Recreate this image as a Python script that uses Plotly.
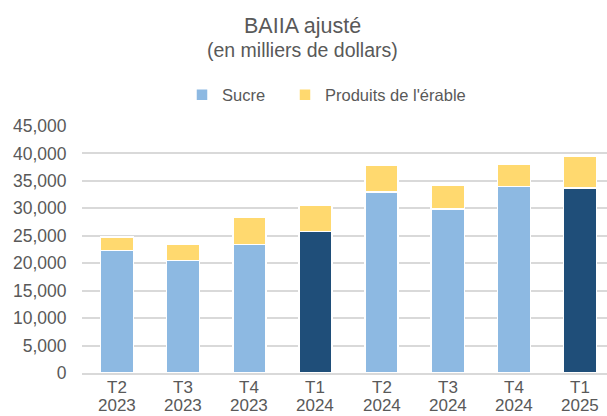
import plotly.graph_objects as go

categories = ["T2 2023", "T3 2023", "T4 2023", "T1 2024", "T2 2024", "T3 2024", "T4 2024", "T1 2025"]
sucre = [22300, 20500, 23400, 25800, 33000, 29900, 34000, 33700]
erable = [2500, 3000, 4900, 4700, 4900, 4300, 4100, 5700]
y_ticks = [0, 5000, 10000, 15000, 20000, 25000, 30000, 35000, 40000, 45000]

light_blue = "#8DB9E2"
dark_blue = "#1F4E79"
yellow = "#FFD96F"
sucre_colors = [dark_blue if c.startswith("T1") else light_blue for c in categories]

font_family = "Liberation Sans, Arial, sans-serif"
grey = "#595959"

L, R, T, B = 82, 0, 126, 43
W, H = 607, 416
PW, PH = W - L - R, H - T - B


def px_x(x):
    return (x - L) / PW


def px_y(y):
    return (H - B - y) / PH


fig = go.Figure()
fig.add_trace(go.Bar(
    x=categories, y=sucre, name="Sucre", legend="legend",
    marker=dict(color=sucre_colors, line=dict(color="white", width=1.5)),
    width=0.5,
))
fig.add_trace(go.Bar(
    x=categories, y=erable, name="Produits de l'érable", legend="legend2",
    marker=dict(color=yellow, line=dict(color="white", width=1.5)),
    width=0.5,
))

annotations = [
    dict(text="BAIIA ajusté", x=px_x(302), y=px_y(26), xref="paper", yref="paper",
         xanchor="center", yanchor="middle", showarrow=False,
         font=dict(size=21.5, color=grey)),
    dict(text="(en milliers de dollars)", x=px_x(302), y=px_y(50), xref="paper", yref="paper",
         xanchor="center", yanchor="middle", showarrow=False,
         font=dict(size=19.5, color=grey)),
]
for c in categories:
    q, yr = c.split(" ")
    annotations.append(dict(text=q, x=c, y=px_y(387), xref="x", yref="paper",
                            xanchor="center", yanchor="middle", showarrow=False,
                            font=dict(size=17, color=grey)))
    annotations.append(dict(text=yr, x=c, y=px_y(405), xref="x", yref="paper",
                            xanchor="center", yanchor="middle", showarrow=False,
                            font=dict(size=17, color=grey)))

legend_common = dict(orientation="h", yanchor="middle", y=px_y(95), xanchor="left",
                     font=dict(size=16.5, color=grey), bgcolor="rgba(0,0,0,0)")

fig.update_layout(
    barmode="stack",
    width=W, height=H,
    margin=dict(l=L, r=R, t=T, b=B, autoexpand=False),
    paper_bgcolor="white", plot_bgcolor="white",
    font=dict(family=font_family, size=17, color=grey),
    showlegend=True,
    legend=dict(legend_common, x=px_x(182)),
    legend2=dict(legend_common, x=px_x(285)),
    xaxis=dict(type="category", range=[-0.529, 7.408], showgrid=False,
               showline=True, linecolor="#D9D9D9", linewidth=1.5,
               showticklabels=False, ticks="", automargin=False),
    yaxis=dict(range=[0, 45000], tickvals=y_ticks, tickformat=",",
               showgrid=True, gridcolor="#D9D9D9", gridwidth=1.5,
               zeroline=False, tickfont=dict(size=17.5, color=grey),
               ticks="outside", ticklen=11, tickcolor="rgba(0,0,0,0)",
               automargin=False),
    annotations=annotations,
)

fig.write_html("out.html", config={"displayModeBar": False},
               post_script="document.body.style.margin='0';document.body.style.overflow='hidden';")
